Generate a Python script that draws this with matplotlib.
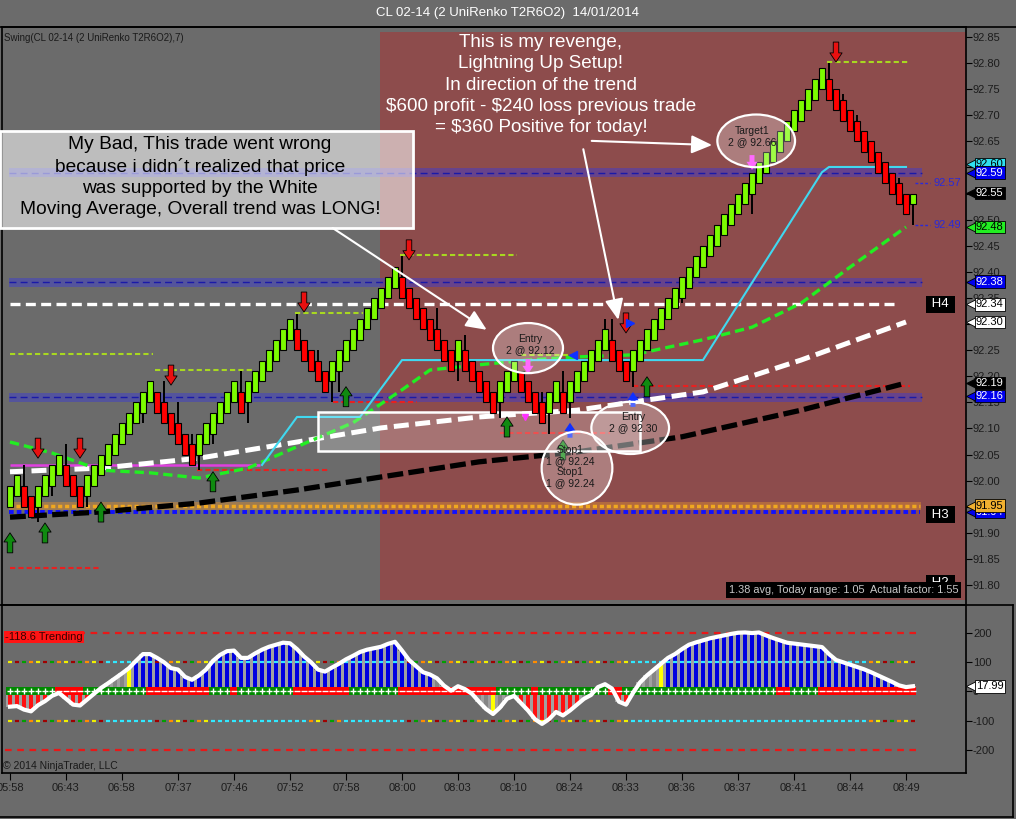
import numpy as np
import matplotlib.pyplot as plt
from matplotlib.patches import Rectangle, Ellipse
from matplotlib.lines import Line2D
from matplotlib.transforms import blended_transform_factory

plt.rcParams['font.family'] = ['Liberation Sans', 'DejaVu Sans']

BG = '#6b6b6b'
SESSION = '#8d4c4c'
GREEN = '#7cfc00'
RED = '#ff0000'

# ---------------- price data (UniRenko bars, one close per bar) ----------------
closes = [91.99, 92.01, 91.95, 91.93, 91.99, 92.01, 92.03, 92.05, 91.99, 91.97,
          91.95, 92.01, 92.03, 92.05, 92.07, 92.09, 92.11, 92.13, 92.15, 92.17,
          92.19, 92.13, 92.11, 92.09, 92.07, 92.05, 92.03, 92.09, 92.11, 92.13,
          92.15, 92.17, 92.19, 92.13, 92.19, 92.21, 92.23, 92.25, 92.27, 92.29,
          92.31, 92.25, 92.23, 92.21, 92.19, 92.17, 92.23, 92.25, 92.27, 92.29,
          92.31, 92.33, 92.35, 92.37, 92.39, 92.41, 92.35, 92.33, 92.31, 92.29,
          92.27, 92.25, 92.23, 92.21, 92.27, 92.21, 92.19, 92.17, 92.15, 92.13,
          92.19, 92.21, 92.23, 92.17, 92.15, 92.13, 92.11, 92.17, 92.19, 92.13,
          92.19, 92.21, 92.23, 92.25, 92.27, 92.29, 92.23, 92.21, 92.19, 92.25,
          92.27, 92.29, 92.31, 92.33, 92.35, 92.37, 92.39, 92.41, 92.43, 92.45,
          92.47, 92.49, 92.51, 92.53, 92.55, 92.57, 92.59, 92.61, 92.63, 92.65,
          92.67, 92.69, 92.71, 92.73, 92.75, 92.77, 92.79, 92.73, 92.71, 92.69,
          92.67, 92.65, 92.63, 92.61, 92.59, 92.57, 92.55, 92.53, 92.51, 92.55]
brick = 0.04
last_open = 92.53

wick_bars = [2, 4, 6, 8, 11, 19, 22, 24, 26, 27, 29, 33, 34, 41, 44, 46, 47, 56,
             61, 64, 65, 70, 76, 77, 79, 80, 85, 86, 89, 96, 106, 117, 119, 121,
             127, 129]
wick_ends = [92.03, 91.92, 91.97, 92.07, 91.95, 92.11, 92.19, 92.15, 92.09, 92.02,
             92.07, 92.21, 92.11, 92.32, 92.25, 92.15, 92.17, 92.43, 92.33, 92.19,
             92.28, 92.12, 92.17, 92.09, 92.21, 92.12, 92.31, 92.31, 92.18, 92.34,
             92.51, 92.80, 92.74, 92.70, 92.58, 92.49]

session_start = 52.9

# moving averages (bar index, price)
black_ma_x = [0, 13, 27, 41, 53, 67, 81, 96, 113, 128]
black_ma_y = [91.930, 91.940, 91.957, 91.982, 92.007, 92.036, 92.055, 92.084, 92.135, 92.187]
white_ma_x = [0, 13, 27, 41, 53, 67, 81, 99, 113, 128]
white_ma_y = [92.017, 92.024, 92.043, 92.074, 92.101, 92.122, 92.135, 92.170, 92.231, 92.304]
green_ma_x = [0, 6, 13, 20, 27, 34, 41, 49, 56, 60, 67, 74, 81, 89, 99, 106, 113, 120, 128]
green_ma_y = [92.074, 92.053, 92.020, 92.015, 92.005, 92.024, 92.065, 92.111, 92.174, 92.212,
              92.222, 92.231, 92.237, 92.241, 92.270, 92.294, 92.340, 92.409, 92.486]
cyan_x = [36, 41, 50, 56, 99, 116, 117, 128]
cyan_y = [92.030, 92.122, 92.122, 92.231, 92.231, 92.591, 92.601, 92.601]

# levels
pivot_blue = [92.59, 92.38, 92.16]
pivot_orange = 91.952
pivot_blue_dot = 91.94
h4_level = 92.338
swing_hi_price = [92.243, 92.212, 92.321, 92.432, 92.241, 92.802]
swing_hi_start = [0, 20.7, 40.7, 55.7, 73, 116.7]
swing_hi_end = [20.4, 34.7, 50.4, 72.4, 81, 128.6]
swing_lo_price = [91.833, 92.020, 92.150, 92.091, 92.181]
swing_lo_start = [0, 26.7, 46.1, 70, 89]
swing_lo_end = [12.9, 45.4, 58.1, 85.7, 128.6]
magenta_level = 92.03
magenta_end = 35.7

# swing arrows
down_arrow_bar = [4, 10, 23, 42, 57, 88, 118]
down_arrow_tip = [92.043, 92.043, 92.183, 92.323, 92.423, 92.283, 92.802]
up_arrow_bar = [0, 5, 13, 29, 48, 71, 79, 91]
up_arrow_tip = [91.900, 91.919, 91.959, 92.017, 92.180, 92.122, 92.078, 92.199]

# oscillator
osc = [-52, -50, -62, -68, -47, -33, -15, -5, -25, -45,
       -48, -28, -8, 12, 28, 45, 62, 80, 105, 128,
       128, 115, 100, 80, 75, 50, 40, 55, 75, 105,
       125, 138, 140, 115, 115, 130, 143, 153, 160, 167,
       165, 145, 120, 100, 75, 68, 82, 95, 110, 122,
       135, 143, 148, 153, 163, 170, 140, 108, 87, 66,
       58, 45, 20, 3, 18, 8, -8, -35, -60, -77,
       -55, -25, -15, -40, -65, -95, -111, -95, -70, -82,
       -65, -45, -25, -12, 15, 25, 10, -35, -45, -5,
       31, 55, 75, 95, 115, 128, 145, 160, 168, 175,
       182, 187, 192, 197, 201, 202, 200, 202, 192, 183,
       175, 167, 164, 161, 158, 155, 152, 128, 108, 100,
       92, 84, 76, 66, 55, 44, 33, 21, 15, 18]
hist_runs = [('r', 13), ('g', 4), ('y', 1), ('b', 43), ('g', 8), ('y', 1), ('g', 3),
             ('r', 9), ('g', 5), ('r', 2), ('g', 4), ('y', 1), ('b', 36)]
strip_runs = [('+', 7), ('-', 4), ('+', 9), ('-', 9), ('+', 3), ('-', 1), ('+', 8),
              ('-', 8), ('+', 7), ('-', 14), ('+', 5), ('-', 1), ('+', 10), ('-', 2),
              ('+', 22), ('-', 2), ('+', 4), ('-', 14)]
cyan_ranges = [(14, 21), (29, 43), (48, 57), (89, 123)]
osc_last = 17.99

time_labels = ['05:58', '06:43', '06:58', '07:37', '07:46', '07:52', '07:58', '08:00',
               '08:03', '08:10', '08:24', '08:33', '08:36', '08:37', '08:41', '08:44', '08:49']

# ---------------- figure ----------------
W, H = 1016, 819


def fp(x, y):
    return x / W, 1 - y / H


fig = plt.figure(figsize=(W / 100, H / 100), dpi=100, facecolor=BG)
ax1 = fig.add_axes([2 / W, 214 / H, 964 / W, 578 / H], facecolor=BG)
ax2 = fig.add_axes([2 / W, 46 / H, 964 / W, 168 / H], facecolor=BG)
XL = (-8 / 7, 956 / 7)
for ax in (ax1, ax2):
    ax.set_xlim(*XL)
    for s in ax.spines.values():
        s.set_color('black')
        s.set_linewidth(1.2)
ax1.set_ylim(91.7617, 92.8692)
ax2.set_ylim(-279, 296)

# session background
ax1.add_patch(Rectangle((session_start, 91.7713), XL[1] - session_start, 1.0883,
                        fc=SESSION, ec='none', zorder=0.5))

# pivot levels
for p in pivot_blue:
    ax1.add_patch(Rectangle((-0.1, p - 0.0085), 130.4, 0.017, fc='#3a3ad8', alpha=0.45,
                            ec='none', zorder=1))
    ax1.hlines(p, -0.1, 130.3, colors='#1a1aa8', linestyles=(0, (5, 3)), lw=1, zorder=1.1)
ax1.add_patch(Rectangle((-0.1, pivot_orange - 0.008), 130.2, 0.016, fc='#e09030', alpha=0.45,
                        ec='none', zorder=1))
ax1.hlines(pivot_orange, -0.1, 130.0, colors='#f0a820', linestyles=(0, (1.2, 0.8)), lw=2.5, zorder=1.1)
ax1.hlines(pivot_blue_dot, -0.1, 130.0, colors='#1010ff', linestyles=(0, (1.2, 0.8)), lw=2.8, zorder=1.2)
ax1.hlines(h4_level, 0, 127, colors='white', linestyles=(0, (3, 1.6)), lw=2.4, zorder=1.2)

# swing lines
ax1.hlines(swing_hi_price, swing_hi_start, swing_hi_end, colors='#a8d820',
           linestyles=(0, (2.5, 1.5)), lw=1.5, zorder=1.5)
ax1.hlines(swing_lo_price, swing_lo_start, swing_lo_end, colors='#e82020',
           linestyles=(0, (2.5, 1.5)), lw=1.5, zorder=1.5)
ax1.hlines(magenta_level, 0, magenta_end, colors='#e040e0', lw=1.8, zorder=1.5)

# moving averages
ax1.plot(black_ma_x, black_ma_y, color='black', lw=3.8, dashes=(3, 1), zorder=2)
ax1.plot(white_ma_x, white_ma_y, color='white', lw=3.6, dashes=(3, 1.3), zorder=2)
ax1.plot(green_ma_x, green_ma_y, color='#22ee22', lw=2.4, dashes=(2.8, 1.5), zorder=2)
ax1.plot(cyan_x, cyan_y, color='#40d8f0', lw=1.5, zorder=2)

# white box (previous trade zone)
ax1.add_patch(Rectangle((44, 92.057), 46, 0.075, fc=(1, 1, 1, 0.22), ec='white', lw=1.8, zorder=2.5))

# renko bars
x = np.arange(len(closes))
c = np.array(closes)
direction = np.sign(np.diff(c, prepend=c[0] - 1))
opens = c - direction * brick
opens[-1] = last_open
lo = np.minimum(opens, c)
hi = np.maximum(opens, c)
bar_colors = np.where(direction > 0, GREEN, RED)
ax1.vlines(wick_bars, c[wick_bars], wick_ends, colors='black', lw=1.4, zorder=3)
ax1.bar(x, hi - lo, bottom=lo, width=0.78, color=bar_colors, edgecolor='black',
        linewidth=0.8, zorder=4)

# swing arrows
arrow_style = 'simple,head_length=0.6,head_width=0.8,tail_width=0.36'
for b, t in zip(down_arrow_bar, down_arrow_tip):
    ax1.annotate('', xy=(b, t), xytext=(0, 20), textcoords='offset pixels',
                 arrowprops=dict(arrowstyle=arrow_style, fc='#e81010', ec='black', lw=0.6,
                                 mutation_scale=11, shrinkA=0, shrinkB=0), zorder=5)
for b, t in zip(up_arrow_bar, up_arrow_tip):
    ax1.annotate('', xy=(b, t), xytext=(0, -20), textcoords='offset pixels',
                 arrowprops=dict(arrowstyle=arrow_style, fc='#108a10', ec='black', lw=0.6,
                                 mutation_scale=11, shrinkA=0, shrinkB=0), zorder=5)

# executions
for b, t in [(80, 92.111), (89, 92.170)]:
    ax1.annotate('', xy=(b, t), xytext=(0, -15), textcoords='offset pixels',
                 arrowprops=dict(arrowstyle=arrow_style, fc='#1030ff', ec='none',
                                 mutation_scale=10, shrinkA=0, shrinkB=0), zorder=5)
for b, t in [(74, 92.204), (106, 92.595)]:
    ax1.annotate('', xy=(b, t), xytext=(0, 15), textcoords='offset pixels',
                 arrowprops=dict(arrowstyle=arrow_style, fc='#ff30ff', ec='none',
                                 mutation_scale=10, shrinkA=0, shrinkB=0), zorder=5)
ax1.plot([80.4], [92.241], marker='<', color='#1030ff', ms=6, zorder=5)
ax1.plot([88.6], [92.302], marker='>', color='#1030ff', ms=6, zorder=5)
ax1.plot([73.6], [92.122], marker='v', color='#ff30ff', ms=5, zorder=5)

# trade ellipses
ellipses = [(74.0, 92.254, 10.0, 0.096, 74.3, 92.261, 'Entry\n2 @ 92.12'),
            (81.0, 92.024, 10.1, 0.140, 80.0, 92.027, 'Stop1\n1 @ 92.24\nStop1\n1 @ 92.24'),
            (88.6, 92.101, 11.1, 0.100, 89.0, 92.111, 'Entry\n2 @ 92.30'),
            (106.6, 92.651, 11.1, 0.101, 106.0, 92.660, 'Target1\n2 @ 92.66')]
for cx, cy, w, h, tx, ty, s in ellipses:
    ax1.add_patch(Ellipse((cx, cy), w, h, fc=(1, 1, 1, 0.28), ec='white', lw=1.6, zorder=6))
    ax1.text(tx, ty, s, ha='center', va='center', fontsize=7.5, color='#1a1a1a',
             linespacing=1.15, zorder=7)

# callout arrows
for (x0, y0), (x1, y1) in [((46.1, 92.484), (68.1, 92.289)),
                           ((83.1, 92.651), (100.3, 92.643)),
                           ((81.9, 92.635), (86.9, 92.308))]:
    ax1.annotate('', xy=(x1, y1), xytext=(x0, y0),
                 arrowprops=dict(arrowstyle='-|>,head_length=0.9,head_width=0.4', color='white',
                                 lw=1.5, mutation_scale=14, shrinkA=0, shrinkB=0), zorder=8)

# axes ticks
ax1.yaxis.tick_right()
ax1.set_yticks(np.round(np.arange(91.80, 92.851, 0.05), 2))
ax1.set_yticklabels([f'{v:.2f}' for v in np.round(np.arange(91.80, 92.851, 0.05), 2)])
ax1.set_xticks([])
ax1.tick_params(axis='y', color='black', labelcolor='#1c1c1c', labelsize=8, length=4,
                width=0.8, pad=1)

# ---------------- oscillator panel ----------------
hist_codes = [code for code, n in hist_runs for _ in range(n)]
hist_map = {'r': '#ff1010', 'g': '#858585', 'y': '#ffff00', 'b': '#0000e0'}
ax2.bar(x, osc, width=1.0, color='#a0a0a0', zorder=1)
ax2.bar(x, osc, width=0.62, color=[hist_map[k] for k in hist_codes], zorder=2)

strip_codes = [code for code, n in strip_runs for _ in range(n)]
strip_cols = ['#008a00' if k == '+' else '#ff0000' for k in strip_codes]
ax2.bar(x, 27, bottom=-13, width=1.0, color=strip_cols, zorder=3)
xp = [i for i, k in enumerate(strip_codes) if k == '+']
xm = [i for i, k in enumerate(strip_codes) if k == '-']
ax2.plot(xp, np.zeros(len(xp)), '+', color='white', ms=5, mew=1, zorder=4)
ax2.plot(xm, np.zeros(len(xm)), '_', color='white', ms=5, mew=1, zorder=4)

mixed = ['#f0f000', '#a00000', '#00a000', '#ff8c00']
dash_cols = []
for i in range(len(osc)):
    if any(a <= i < b for a, b in cyan_ranges):
        dash_cols.append('#30e8ff')
    else:
        dash_cols.append(mixed[i % len(mixed)])
for lvl in (100, -100):
    ax2.hlines(np.full(len(osc), lvl), x - 0.32, x + 0.32, colors=dash_cols, lw=1.6, zorder=5)
ax2.hlines([200, -200], -0.7, 129.5, colors='#e81818', linestyles=(0, (3, 2.5)), lw=1.6, zorder=5)
ax2.plot(x, osc, color='white', lw=3, zorder=6, solid_joinstyle='round')

ax2.yaxis.tick_right()
ax2.set_yticks([200, 100, 0, -100, -200])
ax2.set_yticklabels(['200', '100', '0', '-100', '-200'])
ax2.set_xticks(np.arange(0, 129, 8))
ax2.set_xticklabels(time_labels)
ax2.tick_params(color='black', labelcolor='#1c1c1c', labelsize=8, length=5, width=0.8, pad=2)
ax2.tick_params(axis='y', length=4, pad=1)

# ---------------- right-axis tags ----------------


def tag(ax, y, text, fc, tc, ec='black'):
    tr = blended_transform_factory(fig.transFigure, ax.transData)
    ax.plot([971 / W], [y], marker='<', ms=7, mfc=fc, mec=ec, mew=0.6, transform=tr,
            clip_on=False, zorder=10)
    fig.text(976 / W, y, text, transform=tr, ha='left', va='center', fontsize=8, color=tc,
             bbox=dict(boxstyle='square,pad=0.12', fc=fc, ec=ec, lw=0.6), zorder=10)


tag(ax1, 92.607, '92.60', '#30e0f0', 'black')
tag(ax1, 92.59, '92.59', '#0000ee', 'white')
tag(ax1, 92.551, '92.55', 'black', 'white')
tag(ax1, 92.486, '92.48', '#22ee22', 'black')
tag(ax1, 92.381, '92.38', '#0000ee', 'white')
tag(ax1, 92.338, '92.34', 'white', 'black')
tag(ax1, 92.304, '92.30', 'white', 'black')
tag(ax1, 92.187, '92.19', 'black', 'white')
tag(ax1, 92.162, '92.16', '#0000ee', 'white')
tag(ax1, 91.94, '91.94', '#0000ee', 'white')
tag(ax1, 91.952, '91.95', '#f0b030', 'black')
tag(ax2, osc_last, f'{osc_last:.2f}', 'white', 'black')

tr1 = blended_transform_factory(fig.transFigure, ax1.transData)
for lv in (92.57, 92.49):
    ax1.hlines(lv, 129.3, 131.4, colors='#2a2ad8', linestyles=(0, (2, 1.5)), lw=1, zorder=3)
    fig.text(933 / W, lv, f'{lv:.2f}', transform=tr1, ha='left', va='center', fontsize=8,
             color='#2a2ad8')
for lv, s in [(92.338, 'H4'), (91.935, 'H3'), (91.803, 'H2')]:
    fig.text(940 / W, lv, f' {s} ', transform=tr1, ha='center', va='center', fontsize=9.5,
             color='white', bbox=dict(boxstyle='square,pad=0.18', fc='black', ec='none'))

# ---------------- texts ----------------
fig.text(*fp(508, 13), 'CL 02-14 (2 UniRenko T2R6O2)  14/01/2014', color='white',
         fontsize=9.5, ha='center', va='center')
fig.text(*fp(4, 38), 'Swing(CL 02-14 (2 UniRenko T2R6O2),7)', color='#1a1a1a',
         fontsize=7, ha='left', va='center')
fig.text(*fp(729, 590), '1.38 avg, Today range: 1.05  Actual factor: 1.55', color='#c8c8c8',
         fontsize=7.8, ha='left', va='center', zorder=12,
         bbox=dict(boxstyle='square,pad=0.25', fc='black', ec='none'))
fig.text(*fp(5, 637), '-118.6 Trending', color='#3a0000', fontsize=8, ha='left', va='center',
         bbox=dict(boxstyle='square,pad=0.12', fc='#ff1414', ec='none'))
fig.text(*fp(3, 766), '\u00a9 2014 NinjaTrader, LLC', color='#1a1a1a', fontsize=7.5,
         ha='left', va='center')

fig.add_artist(Rectangle(fp(0, 228), 413 / W, 97 / H, transform=fig.transFigure,
                         fc=(1, 1, 1, 0.56), ec='white', lw=2, zorder=2))
fig.text(*fp(200, 177), 'My Bad, This trade went wrong\nbecause i didn\u00b4t realized that price\n'
         'was supported by the White\nMoving Average, Overall trend was LONG!',
         ha='center', va='center', fontsize=13.8, linespacing=1.31, color='black', zorder=3)
fig.text(*fp(541, 85), 'This is my revenge,\nLightning Up Setup!\nIn direction of the trend\n'
         '\\$600 profit - \\$240 loss previous trade\n= \\$360 Positive for today!',
         ha='center', va='center', fontsize=13.6, linespacing=1.31, color='white', zorder=3)

# frame lines
for (xa, ya), (xb, yb) in [((0, 27), (1016, 27)), ((0, 605), (1013, 605)),
                           ((1013, 605), (1013, 817)), ((0, 817), (1013, 817))]:
    fig.add_artist(Line2D([xa / W, xb / W], [1 - ya / H, 1 - yb / H], transform=fig.transFigure,
                          color='black', lw=1.2))

fig.savefig('out.png', dpi=100, facecolor=BG)
